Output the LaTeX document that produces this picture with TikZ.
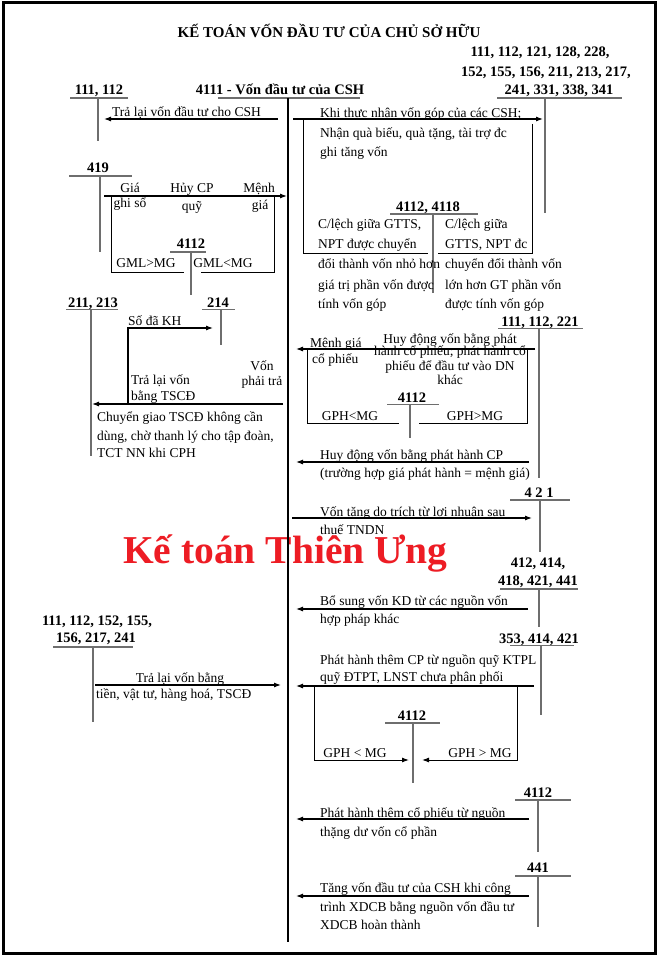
\documentclass[tikz,border=0pt]{standalone}
\usepackage{fontspec}
\setmainfont{Liberation Serif}
\usetikzlibrary{arrows.meta}
\definecolor{tgray}{HTML}{6E6E6E}
\definecolor{wmred}{HTML}{ED1C24}
\begin{document}
\begin{tikzpicture}[x=1pt,y=-1pt,
 txt/.style={font=\fontsize{13.5}{16}\selectfont, inner sep=0pt, anchor=base west},
 ctx/.style={txt, anchor=base},
 acct/.style={font=\fontsize{14.5}{17}\selectfont\bfseries, inner sep=0pt, anchor=base},
 tl/.style={draw=tgray, line width=1.3pt},
 arr/.style={draw=black, line width=1.1pt, -{Latex[length=7pt,width=5pt]}},
 brk/.style={draw=black, line width=1pt},
]
\useasboundingbox (0,0) rectangle (660,960);
\draw[line width=3pt] (3,3) rectangle (655,953);

% title
\node[font=\fontsize{15}{18}\selectfont\bfseries, inner sep=0pt, anchor=base] (title) at (329,38) {KẾ TOÁN VỐN ĐẦU TƯ CỦA CHỦ SỞ HỮU};

% watermark
\node[font=\fontsize{39.5}{42}\selectfont\bfseries, text=wmred, inner sep=0pt, anchor=base west] (wm) at (123,563) {Kế toán Thiên Ưng};

% main account
\node[acct] (m) at (280,95) {4111 - Vốn đầu tư của CSH};
\coordinate (mtop) at (288,98);
\coordinate (mbot) at (288,942);
\draw[tl] (218,98) -- (360,98);
\draw[line width=2pt] (mtop) -- (mbot);

% 111,112 top left
\node[acct] (t1) at (99,95) {111, 112};
\draw[tl] (70,98) -- (128,98);
\draw[tl] (98,98) -- (98,141);
\coordinate (a1s) at (278,119); \coordinate (a1e) at (104,119);
\draw[arr] (a1s) -- (a1e);
\node[txt] (l1) at (112,116.5) {Trả lại vốn đầu tư cho CSH};

% right top accounts
\node[acct] (t2a) at (540,57) {111, 112, 121, 128, 228,};
\node[acct] (t2b) at (546,77) {152, 155, 156, 211, 213, 217,};
\node[acct] (t2c) at (559,95) {241, 331, 338, 341};
\draw[tl] (497,98) -- (622,98);
\draw[tl] (545,98) -- (545,213);
\coordinate (a2s) at (293,119); \coordinate (a2e) at (543,119);
\draw[arr] (a2s) -- (a2e);
\node[txt] (l2a) at (320,117.5) {Khi thực nhận vốn góp của các CSH;};
\node[txt] (l2b) at (320,137.5) {Nhận quà biếu, quà tặng, tài trợ đc};
\node[txt] (l2c) at (320,156.5) {ghi tăng vốn};
\draw[brk] (303,119) -- (303,253) -- (428,253);
\draw[brk] (532,124) -- (532,253) -- (438,253);
\node[acct] (t3) at (428,211) {4112, 4118};
\draw[tl] (390,214) -- (478,214);
\draw[tl] (433,214) -- (433,293);
\node[txt] (l3a) at (318,228.5) {C/lệch giữa GTTS,};
\node[txt] (l3b) at (318,248.5) {NPT được chuyển};
\node[txt] (l3c) at (318,268.5) {đổi thành vốn nhỏ hơn};
\node[txt] (l3d) at (318,289.5) {giá trị phần vốn được};
\node[txt] (l3e) at (318,308.5) {tính vốn góp};
\node[txt] (l4a) at (445,228.5) {C/lệch giữa};
\node[txt] (l4b) at (445,248.5) {GTTS, NPT đc};
\node[txt] (l4c) at (445,268.5) {chuyển đổi thành vốn};
\node[txt] (l4d) at (445,289.5) {lớn hơn GT phần vốn};
\node[txt] (l4e) at (445,308.5) {được tính vốn góp};

% 419
\node[acct] (t4) at (98,173) {419};
\draw[tl] (69,176) -- (132,176);
\draw[tl] (100,176) -- (100,252);
\coordinate (a4s) at (104,196); \coordinate (a4e) at (287,196);
\draw[arr] (a4s) -- (a4e);
\node[ctx] (l5a) at (130,192.5) {Giá};
\node[ctx] (l5b) at (192,192.5) {Hủy CP};
\node[ctx] (l5c) at (259,192.5) {Mệnh};
\node[ctx] (l5d) at (130,207.5) {ghi sổ};
\node[ctx] (l5e) at (192,210.5) {quỹ};
\node[ctx] (l5f) at (260,209.5) {giá};
\draw[brk] (111,196) -- (111,272) -- (184,272);
\draw[brk] (274,196) -- (274,272) -- (201,272);
\node[acct] (t5) at (191,248) {4112};
\draw[tl] (170,252) -- (206,252);
\draw[tl] (191,252) -- (191,295);
\node[ctx] (l5g) at (146,267.5) {GML>MG};
\node[ctx] (l5h) at (223,267.5) {GML<MG};

% 211, 213 and 214
\node[acct] (t6) at (93,307) {211, 213};
\draw[tl] (66,309.5) -- (118,309.5);
\draw[tl] (91,309.5) -- (91,456);
\node[acct] (t7) at (218,307) {214};
\draw[tl] (202,309.5) -- (235,309.5);
\draw[tl] (221,309.5) -- (221,345);
\coordinate (a7s) at (128,404); \coordinate (a7c) at (128,328); \coordinate (a7e) at (213,328);
\draw[arr] (a7s) -- (a7c) -- (a7e);
\node[txt] (l7) at (128,325) {Số đã KH};
\coordinate (a8s) at (283,404); \coordinate (a8e) at (92,404);
\draw[arr] (a8s) -- (a8e);
\node[ctx] (l8a) at (262,370.5) {Vốn};
\node[ctx] (l8b) at (262,385.5) {phải trả};
\node[txt] (l8c) at (131,384.5) {Trả lại vốn};
\node[txt] (l8d) at (131,400.5) {bằng TSCĐ};
\node[txt] (l8e) at (97,421.5) {Chuyển giao TSCĐ không cần};
\node[txt] (l8f) at (97,440.5) {dùng, chờ thanh lý cho tập đoàn,};
\node[txt] (l8g) at (97,457.5) {TCT NN khi CPH};

% 111, 112, 221
\node[acct] (t8) at (540,326) {111, 112, 221};
\draw[tl] (498,328.5) -- (583,328.5);
\draw[tl] (539,328.5) -- (539,478);
\coordinate (a9s) at (535,349); \coordinate (a9e) at (296,349);
\draw[arr] (a9s) -- (a9e);
\node[txt] (l9a) at (310,347.5) {Mệnh giá};
\node[txt] (l9b) at (312,363.5) {cổ phiếu};
\node[ctx] (l9c) at (450,343.5) {Huy động vốn bằng phát};
\node[ctx] (l9d) at (450,355.5) {hành cổ phiếu; phát hành cổ};
\node[ctx] (l9e) at (450,370.5) {phiếu để đầu tư vào DN};
\node[ctx] (l9f) at (450,384.5) {khác};
\draw[brk] (307,349) -- (307,423) -- (399,423);
\draw[brk] (527,349) -- (527,423) -- (419,423);
\node[acct] (t9) at (412,402) {4112};
\draw[tl] (387,404.5) -- (439,404.5);
\draw[tl] (410,404.5) -- (410,438);
\node[ctx] (l9g) at (350,420.5) {GPH<MG};
\node[ctx] (l9h) at (475,420.5) {GPH>MG};
\coordinate (a10s) at (529,462); \coordinate (a10e) at (296,462);
\draw[arr] (a10s) -- (a10e);
\node[txt] (l10a) at (320,459.5) {Huy động vốn bằng phát hành CP};
\node[txt] (l10b) at (320,477.5) {(trường hợp giá phát hành = mệnh giá)};

% 421
\node[acct] (t10) at (539,497) {4 2 1};
\draw[tl] (510,500) -- (570,500);
\draw[tl] (540,500) -- (540,552);
\coordinate (a11s) at (292,518); \coordinate (a11e) at (532,518);
\draw[arr] (a11s) -- (a11e);
\node[txt] (l11a) at (320,516.5) {Vốn tăng do trích từ lợi nhuận sau};
\node[txt] (l11b) at (320,534.5) {thuế TNDN};

% 412, 414, 418, 421, 441
\node[acct] (t11a) at (538,567) {412, 414,};
\node[acct] (t11b) at (538,585) {418, 421, 441};
\draw[tl] (500,589) -- (578,589);
\draw[tl] (539,589) -- (539,627);
\coordinate (a12s) at (528,609); \coordinate (a12e) at (296,609);
\draw[arr] (a12s) -- (a12e);
\node[txt] (l12a) at (320,605.5) {Bổ sung vốn KD từ các nguồn vốn};
\node[txt] (l12b) at (320,623.5) {hợp pháp khác};

% 353, 414, 421
\node[acct] (t12) at (539,643) {353, 414, 421};
\draw[tl] (510,645.5) -- (574,645.5);
\draw[tl] (541,645.5) -- (541,715);
\coordinate (a13s) at (534,686); \coordinate (a13e) at (296,686);
\draw[arr] (a13s) -- (a13e);
\node[txt] (l13a) at (320,664.5) {Phát hành thêm CP từ nguồn quỹ KTPL};
\node[txt] (l13b) at (320,681.5) {quỹ ĐTPT, LNST chưa phân phối};
\coordinate (b1) at (314,686); \coordinate (b2) at (314,760); \coordinate (b3) at (409,760);
\coordinate (b4) at (517,686); \coordinate (b5) at (517,760); \coordinate (b6) at (422,760);
\draw[arr, line width=1pt] (b1) -- (b2) -- (b3);
\draw[arr, line width=1pt] (b4) -- (b5) -- (b6);
\node[acct] (t13) at (412,720) {4112};
\draw[tl] (385,723) -- (440,723);
\draw[tl] (413,723) -- (413,783);
\node[ctx] (l13c) at (355,757.5) {GPH < MG};
\node[ctx] (l13d) at (480,757.5) {GPH > MG};

% bottom-left account
\node[acct] (t14a) at (97,625) {111, 112, 152, 155,};
\node[acct] (t14b) at (96,642) {156, 217, 241};
\draw[tl] (53,647) -- (133,647);
\draw[tl] (93,647) -- (93,722);
\coordinate (a14s) at (95,685); \coordinate (a14e) at (281,685);
\draw[arr] (a14s) -- (a14e);
\node[ctx] (l14a) at (180,682.5) {Trả lại vốn bằng};
\node[txt] (l14b) at (96,698.5) {tiền, vật tư, hàng hoá, TSCĐ};

% 4112 lower
\node[acct] (t15) at (538,797) {4112};
\draw[tl] (515,800) -- (571,800);
\draw[tl] (538,800) -- (538,852);
\coordinate (a15s) at (529,819); \coordinate (a15e) at (296,819);
\draw[arr] (a15s) -- (a15e);
\node[txt] (l15a) at (320,817.5) {Phát hành thêm cổ phiếu từ nguồn};
\node[txt] (l15b) at (320,836.5) {thặng dư vốn cổ phần};

% 441
\node[acct] (t16) at (538,872) {441};
\draw[tl] (515,876) -- (571,876);
\draw[tl] (538,876) -- (538,927);
\coordinate (a16s) at (529,896); \coordinate (a16e) at (296,896);
\draw[arr] (a16s) -- (a16e);
\node[txt] (l16a) at (320,892.5) {Tăng vốn đầu tư của CSH khi công};
\node[txt] (l16b) at (320,911.5) {trình XDCB bằng nguồn vốn đầu tư};
\node[txt] (l16c) at (320,929.5) {XDCB hoàn thành};
\end{tikzpicture}
\end{document}
